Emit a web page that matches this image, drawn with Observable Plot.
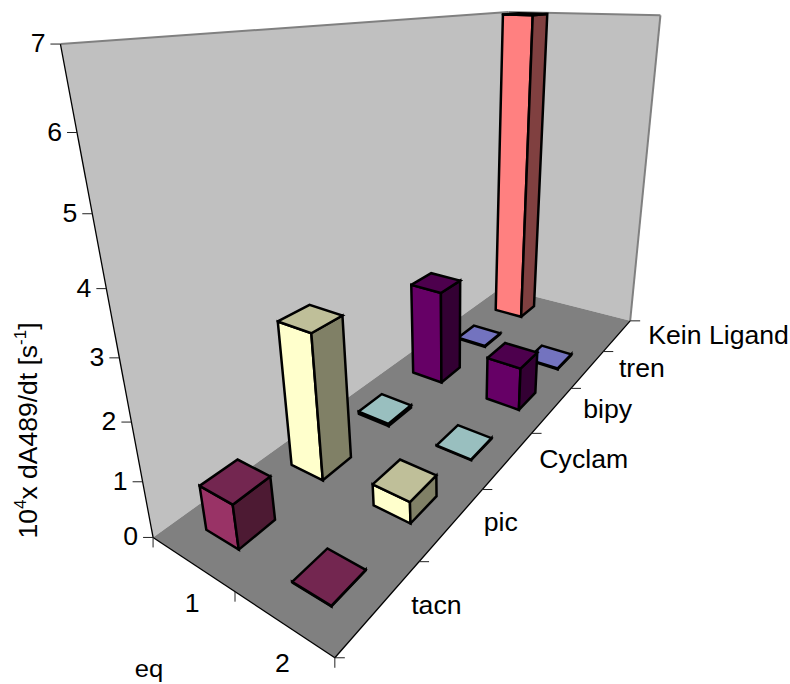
<!DOCTYPE html>
<html><head><meta charset="utf-8">
<script src="https://cdn.jsdelivr.net/npm/d3@7"></script>
<script src="https://cdn.jsdelivr.net/npm/@observablehq/plot@0.6"></script>
<style>body{margin:0;background:#fff}svg{display:block}</style></head>
<body><div id="chart"></div>
<script>
const ligands = ["tacn","pic","Cyclam","bipy","tren","Kein Ligand"];
const eqLabels = ["1","2"];
const yTicks = [0,1,2,3,4,5,6,7];
const eq1Values = [0.8,2.7,0.05,2.0,0.02,7];
const eq2Values = [0.01,0.4,0.01,0.9,0.02,null];
const frontColors = ["#993366","#FFFFCC","#CCFFFF","#660066","#9999FF","#FF8080"];
const topColors = ["#732650","#BFBF99","#99BFBF","#4D004D","#7373BF","#BF6060"];
const sideColors = ["#4D1A33","#808066","#668080","#330033","#4D4D80","#804040"];
// Perspective camera: (eq, ligand, value) -> plot plane
const H=[60.89951,126.0698,-15.26406,152.5768,1.225957,-2.493083,-71.95775,536.9404,-0.08967321,0.1360673,-0.03385115];
function P(a,b,w){const d=H[8]*a+H[9]*b+H[10]*w+1;
  return [(H[0]*a+H[1]*b+H[2]*w+H[3])/d,(H[4]*a+H[5]*b+H[6]*w+H[7])/d];}
function poly(id,color,pts){return pts.map(p=>{const q=P(...p);return {id,color,x:q[0],y:q[1]};});}
const surfaces=[
 ...poly("left","#C0C0C0",[[0,0,0],[0,6,0],[0,6,7],[0,0,7]]),
 ...poly("right","#C0C0C0",[[0,6,0],[2,6,0],[2,6,7],[0,6,7]]),
 ...poly("floor","#808080",[[0,0,0],[2,0,0],[2,6,0],[0,6,0]])
];
const gap=0.3;
const faces=[];
for(let l=5;l>=0;l--){
  [eq1Values[l],eq2Values[l]].forEach((v,e)=>{
    if(v==null)return;
    const a0=e+gap,a1=e+1-gap,b0=l+gap,b1=l+1-gap,k=l+"-"+e;
    faces.push(...poly(k+"f",frontColors[l],[[a0,b0,0],[a1,b0,0],[a1,b0,v],[a0,b0,v],[a0,b0,0]]));
    faces.push(...poly(k+"s",sideColors[l],[[a1,b0,0],[a1,b1,0],[a1,b1,v],[a1,b0,v],[a1,b0,0]]));
    faces.push(...poly(k+"t",topColors[l],[[a0,b0,v],[a1,b0,v],[a1,b1,v],[a0,b1,v],[a0,b0,v]]));
  });
}
const seg=(p,q)=>({x1:p[0],y1:p[1],x2:q[0],y2:q[1]});
const grayEdges=[[[0,0,7],[0,6,7]],[[0,6,7],[2,6,7]],[[2,6,7],[2,6,0]]].map(([p,q])=>seg(P(...p),P(...q)));
const blackEdges=[[[0,0,0],[0,0,7]],[[0,0,0],[2,0,0]],[[2,0,0],[2,6,0]]].map(([p,q])=>seg(P(...p),P(...q)));
const tickLen=10;
const ticks=[
 ...yTicks.map(t=>{const p=P(0,0,t);return seg(p,[p[0]-tickLen,p[1]]);}),
 ...[0,1,2].map(a=>{const p=P(a,0,0);return seg(p,[p[0],p[1]+tickLen]);}),
 ...d3.range(7).map(b=>{const p=P(2,b,0);return seg(p,[p[0]+tickLen,p[1]]);})
];
const font="Liberation Sans";
const plot=Plot.plot({
 width:790,height:684,margin:0,
 x:{domain:[0,790],range:[0,790],axis:null},
 y:{domain:[0,684],range:[0,684],axis:null},
 color:{type:"identity"},
 style:{background:"white",fontFamily:font},
 marks:[
  Plot.line(surfaces,{x:"x",y:"y",z:"id",fill:"color",stroke:"none"}),
  Plot.link(grayEdges,{x1:"x1",y1:"y1",x2:"x2",y2:"y2",stroke:"#808080",strokeWidth:2}),
  Plot.link(blackEdges,{x1:"x1",y1:"y1",x2:"x2",y2:"y2",stroke:"#000",strokeWidth:1.3}),
  Plot.link(ticks,{x1:"x1",y1:"y1",x2:"x2",y2:"y2",stroke:"#222",strokeWidth:1}),
  Plot.line(faces,{x:"x",y:"y",z:"id",fill:"color",stroke:"#000",strokeWidth:2.5,strokeLinejoin:"miter",strokeMiterlimit:4}),
  Plot.text(yTicks,{x:t=>P(0,0,t)[0],y:t=>P(0,0,t)[1],dx:-15,text:t=>String(t),textAnchor:"end",fontSize:25,fill:"#000",className:"lab"}),
  Plot.text(eqLabels,{x:(d,i)=>P(i+0.5,0,0)[0],y:(d,i)=>P(i+0.5,0,0)[1],dy:41,text:d=>d,fontSize:25,fill:"#000",className:"lab"}),
  Plot.text(ligands,{x:(d,i)=>P(2,i+0.5,0)[0],y:(d,i)=>P(2,i+0.5,0)[1],dx:31,text:d=>d,textAnchor:"start",fontSize:25,fill:"#000",className:"lab"}),
  Plot.text(["eq"],{x:()=>P(1,0,0)[0],y:()=>P(1,0,0)[1],dx:-86,dy:78,text:d=>d,fontSize:24,fill:"#000",className:"lab"}),
  Plot.text(["title"],{frameAnchor:"left",textAnchor:"middle",dx:28,dy:88,rotate:-90,text:()=>"10x",fontSize:26.5,fill:"#000",className:"ytitle"})
 ]
});
document.getElementById("chart").append(plot);
d3.select(plot).selectAll(".lab text").each(function(){
  const len=this.getComputedTextLength();
  d3.select(this).attr("textLength",len*1.065).attr("lengthAdjust","spacingAndGlyphs");
});
const t=d3.select(plot).select(".ytitle text");
t.text(null);
[["10",0],["4",1],["x dA489/dt [s",0],["-1",1],["]",0]].forEach(([s,sup],i,arr)=>{
  const prevSup=i>0&&arr[i-1][1];
  const ts=t.append("tspan").text(s);
  if(sup)ts.attr("font-size",17).attr("dy",-11);
  else if(prevSup)ts.attr("dy",11);
});
</script></body></html>
